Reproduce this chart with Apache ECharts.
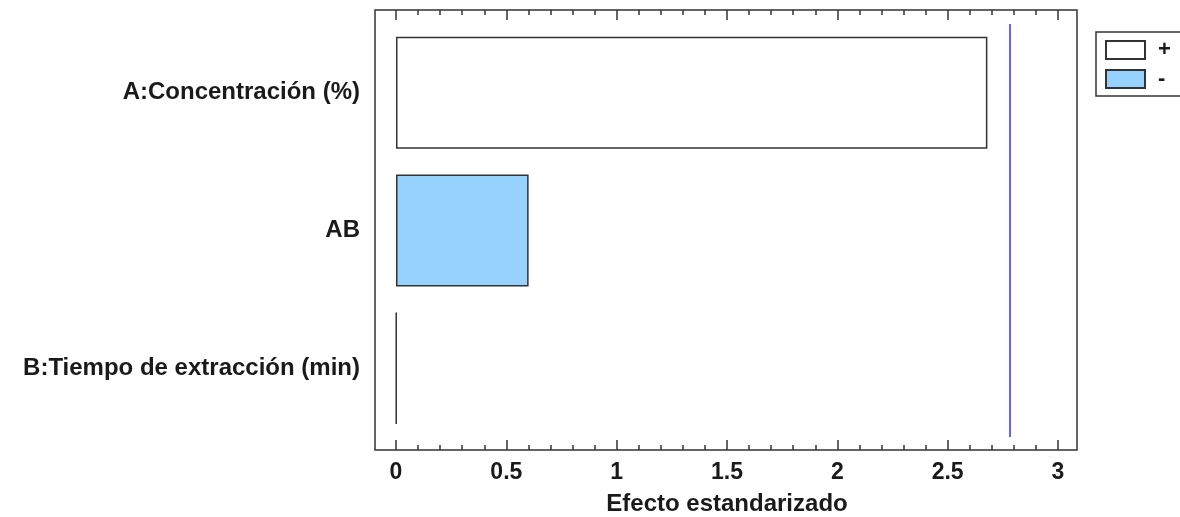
<!DOCTYPE html>
<html>
<head>
<meta charset="utf-8">
<title>Efecto estandarizado</title>
<script src="https://cdn.jsdelivr.net/npm/echarts@6/dist/echarts.min.js"></script>
<style>
  html, body { margin: 0; padding: 0; background: #ffffff; }
  #chart { width: 1180px; height: 517px; }
</style>
</head>
<body>
<div id="chart"></div>
<script>
// Factors of the Pareto chart, top to bottom
const factors = ['A:Concentración (%)', 'AB', 'B:Tiempo de extracción (min)'];
// Standardized effects, split by sign of the effect
const positiveEffects = [2.68, null, 0.002];
const negativeEffects = [null, 0.601, null];
// Critical value of the test (reference line)
const criticalValue = 2.776;
// Axis range and ticks
const axisMin = 0;
const axisMax = 3;
const axisStep = 0.5;

const FONT = '"Liberation Sans", Arial, sans-serif';
const INK = '#1a1a1a';
const LINE = '#333333';

const chart = echarts.init(document.getElementById('chart'), null, { renderer: 'canvas' });

const tickCommon = {
  axisLine: { show: false },
  axisTick: { show: true, inside: true, length: 10, lineStyle: { color: LINE, width: 1.5 } },
  minorTick: { show: true, splitNumber: 5, length: 5, lineStyle: { color: LINE, width: 1.5 } },
  splitLine: { show: false },
  min: axisMin,
  max: axisMax,
  interval: axisStep
};

chart.setOption({
  animation: false,
  backgroundColor: '#ffffff',
  textStyle: { fontFamily: FONT },
  graphic: [{
    type: 'rect',
    shape: { x: 375, y: 10, width: 702, height: 440 },
    style: { fill: 'none', stroke: LINE, lineWidth: 1.5 },
    z: 10
  }],
  grid: { left: 396, right: 122, top: 24, bottom: 80, containLabel: false, outerBoundsMode: 'none' },
  legend: {
    data: [{ name: '+', icon: 'rect' }, { name: '-', icon: 'rect' }],
    orient: 'vertical',
    left: 1096,
    top: 32,
    padding: [7, 12, 6, 9],
    itemWidth: 39,
    itemHeight: 18,
    itemGap: 7,
    borderColor: LINE,
    borderWidth: 1.5,
    textStyle: { fontFamily: FONT, fontWeight: 'bold', fontSize: 22, color: INK, padding: [0, 0, 0, 8] }
  },
  xAxis: [
    Object.assign({
      type: 'value',
      position: 'bottom',
      offset: 13,
      name: 'Efecto estandarizado',
      nameLocation: 'middle',
      nameGap: 42,
      nameTextStyle: { fontFamily: FONT, fontWeight: 'bold', fontSize: 24, color: INK },
      axisLabel: { fontFamily: FONT, fontWeight: 'bold', fontSize: 23, color: INK, margin: 11 }
    }, tickCommon),
    Object.assign({
      type: 'value',
      position: 'top',
      offset: 14,
      axisLabel: { show: false }
    }, tickCommon)
  ],
  yAxis: {
    type: 'category',
    data: factors,
    inverse: true,
    axisLine: { show: false },
    axisTick: { show: false },
    splitLine: { show: false },
    axisLabel: { fontFamily: FONT, fontWeight: 'bold', fontSize: 24, color: INK, margin: 36 }
  },
  series: [
    {
      name: '+',
      type: 'bar',
      xAxisIndex: 0,
      data: positiveEffects,
      barWidth: 112,
      barGap: '-100%',
      itemStyle: { color: '#ffffff', borderColor: LINE, borderWidth: 1.5 },
      markLine: {
        silent: true,
        symbol: 'none',
        label: { show: false },
        lineStyle: { color: '#3030ff', width: 1.5, type: 'solid' },
        data: [{ xAxis: criticalValue }]
      }
    },
    {
      name: '-',
      type: 'bar',
      xAxisIndex: 0,
      data: negativeEffects,
      barWidth: 112,
      barGap: '-100%',
      itemStyle: { color: '#97d2ff', borderColor: LINE, borderWidth: 1.5 }
    }
  ]
});
</script>
</body>
</html>
